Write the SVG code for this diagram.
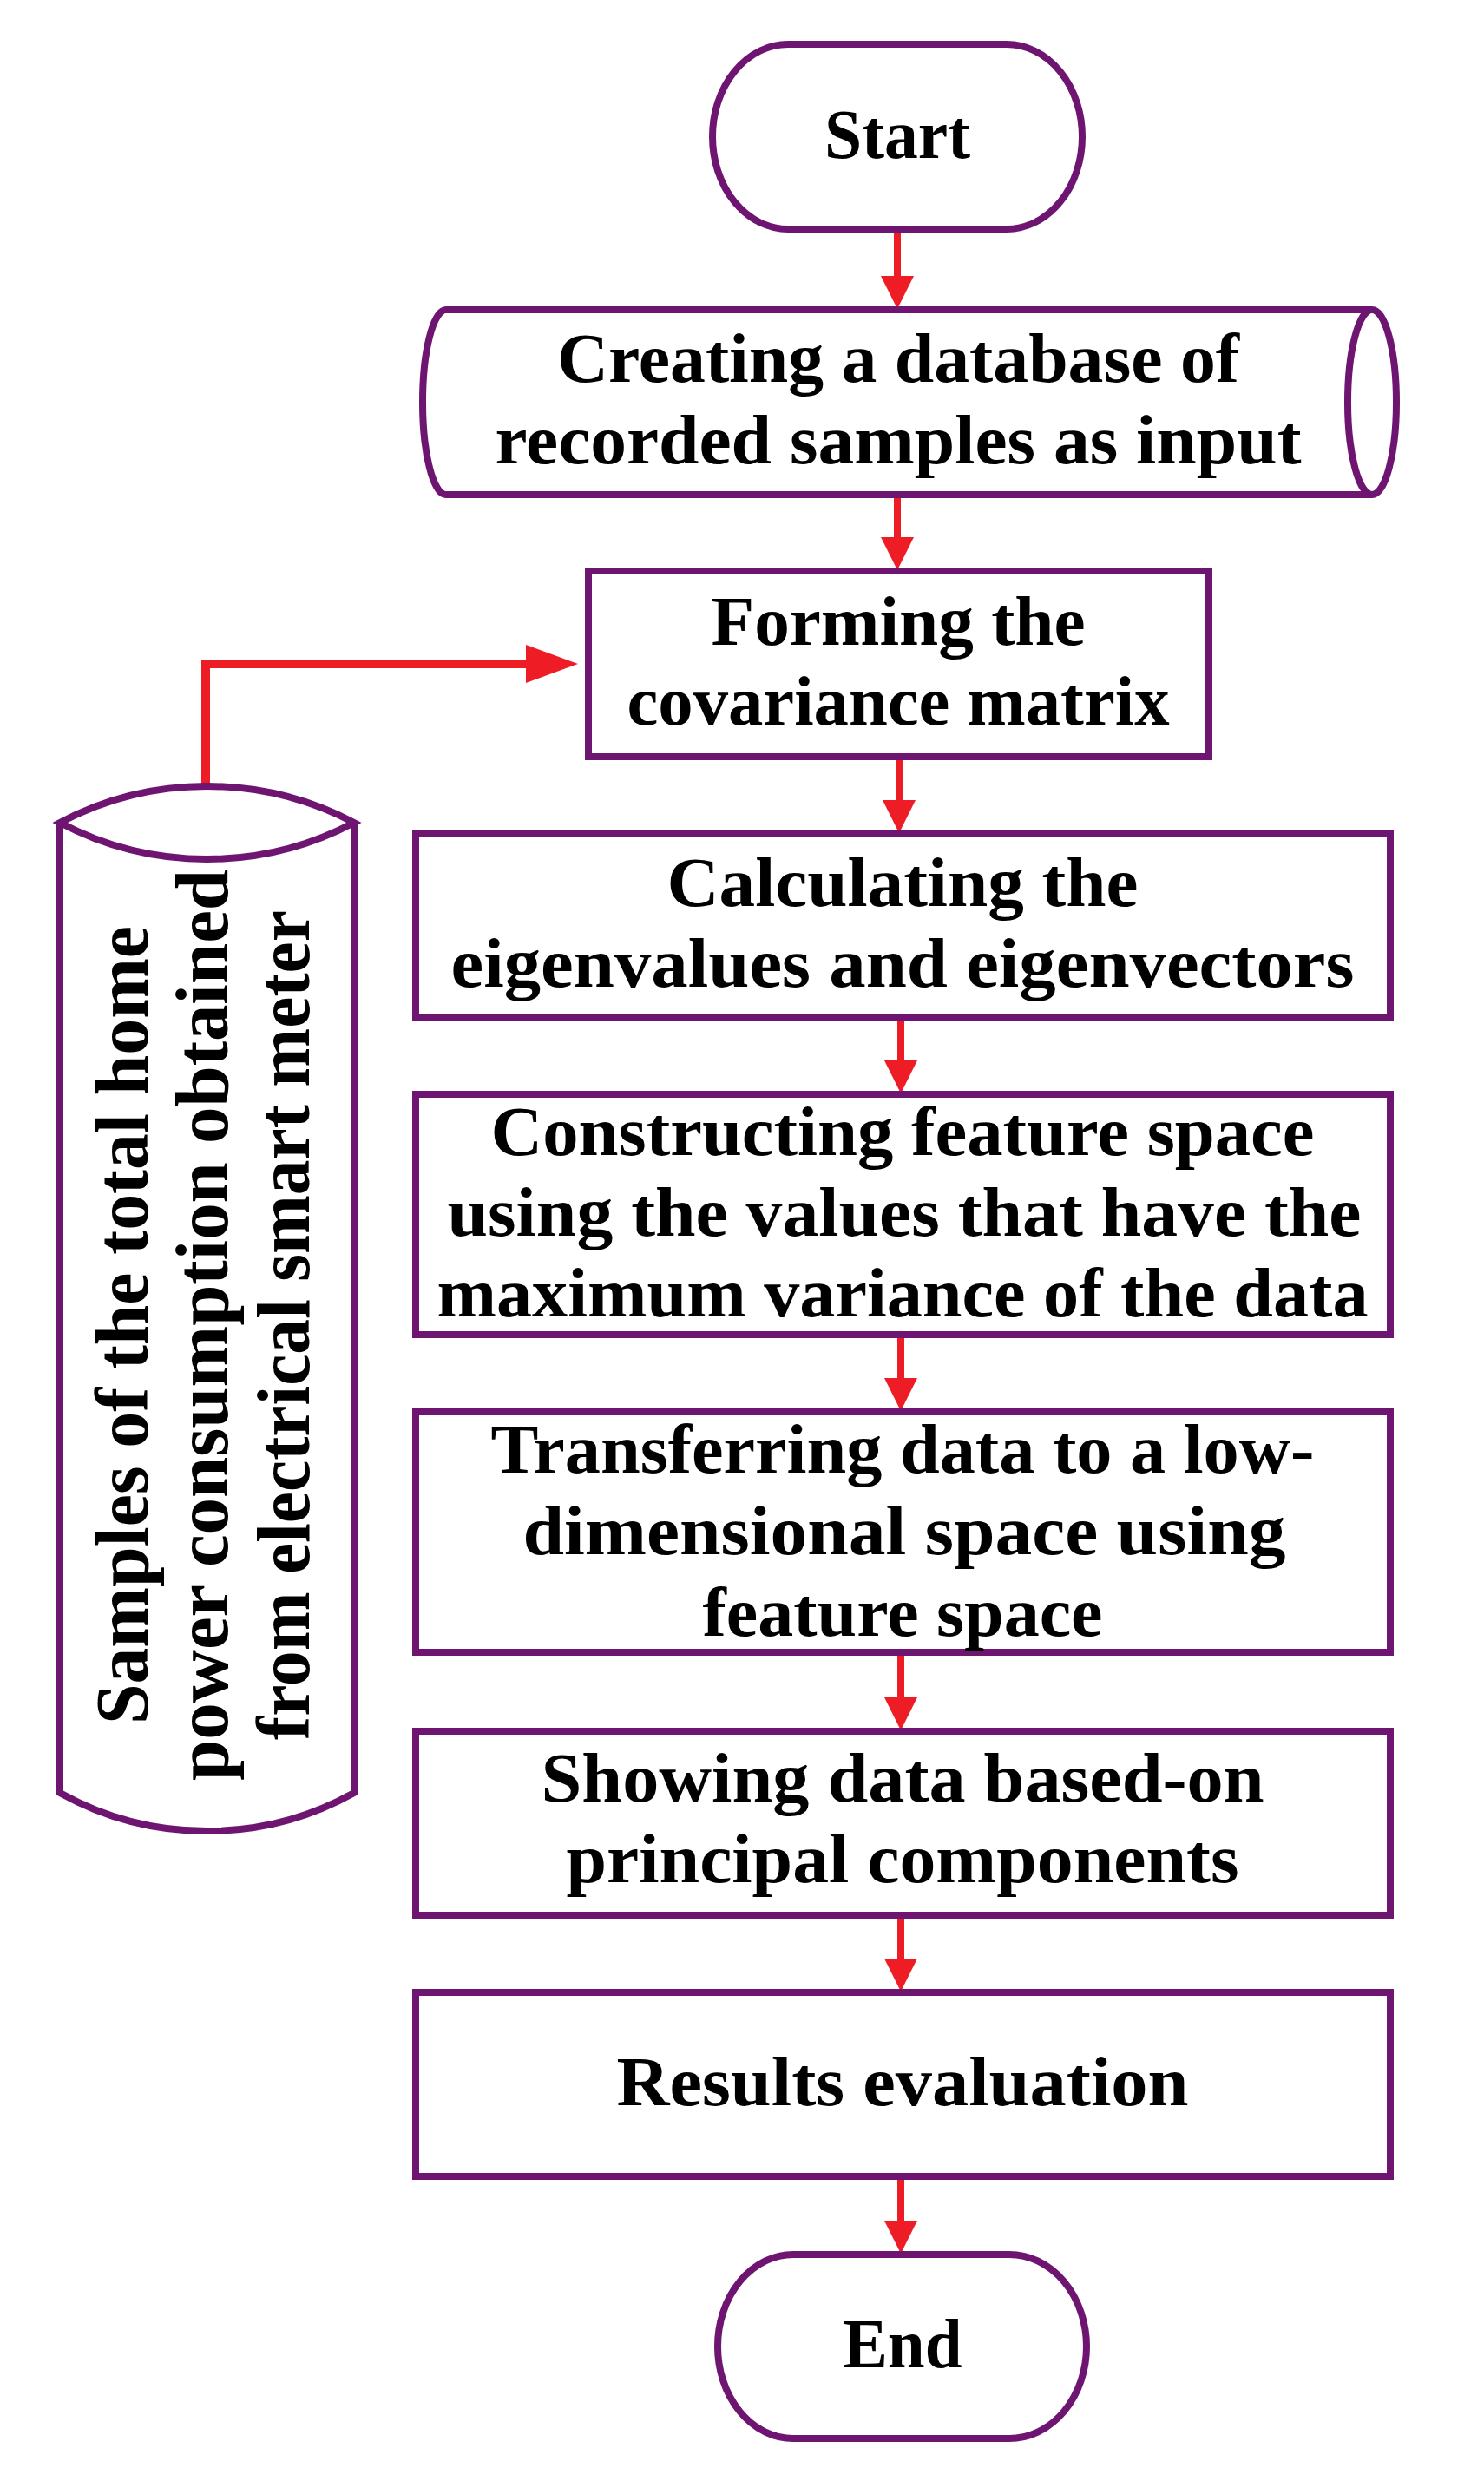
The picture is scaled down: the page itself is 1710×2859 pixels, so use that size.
<svg xmlns="http://www.w3.org/2000/svg" width="1710" height="2859" viewBox="0 0 1710 2859">
<defs>
<style>
.shape{fill:#ffffff;stroke:#6E1471;stroke-width:8;stroke-linejoin:miter}
.conn{fill:none;stroke:#EE1C25;stroke-width:8}
.conn2{fill:none;stroke:#EE1C25;stroke-width:10;stroke-linejoin:miter}
.t{font-family:"Liberation Serif","Times New Roman",serif;font-weight:bold;font-size:80px;fill:#000000;text-anchor:middle}
.tv{font-family:"Liberation Serif","Times New Roman",serif;font-weight:bold;font-size:86px;fill:#000000;text-anchor:middle}
</style>
<marker id="ah" markerUnits="userSpaceOnUse" markerWidth="38" markerHeight="38" refX="8" refY="19" orient="auto">
<path d="M0,0 L38,19 L0,38 Z" fill="#EE1C25"/>
</marker>
<marker id="ahBig" markerUnits="userSpaceOnUse" markerWidth="60" markerHeight="44" refX="10" refY="22" orient="auto">
<path d="M0,0 L60,22 L0,44 Z" fill="#EE1C25"/>
</marker>
</defs>
<rect x="0" y="0" width="1710" height="2859" fill="#ffffff"/>

<g id="connectors">
<line class="conn" x1="1034" y1="264" x2="1034" y2="326" marker-end="url(#ah)"/>
<line class="conn" x1="1034" y1="570" x2="1034" y2="627" marker-end="url(#ah)"/>
<line class="conn" x1="1036" y1="872" x2="1036" y2="930" marker-end="url(#ah)"/>
<line class="conn" x1="1038" y1="1172" x2="1038" y2="1230" marker-end="url(#ah)"/>
<line class="conn" x1="1038" y1="1538" x2="1038" y2="1596" marker-end="url(#ah)"/>
<line class="conn" x1="1038" y1="1904" x2="1038" y2="1964" marker-end="url(#ah)"/>
<line class="conn" x1="1038" y1="2207" x2="1038" y2="2265" marker-end="url(#ah)"/>
<line class="conn" x1="1038" y1="2508" x2="1038" y2="2567" marker-end="url(#ah)"/>
<path class="conn2" d="M237,908 V765 H616" marker-end="url(#ahBig)"/>
</g>

<g id="start">
<path class="shape" d="M908,51 H1160 A87 106.5 0 0 1 1247 157.5 A87 106.5 0 0 1 1160 264 H908 A87 106.5 0 0 1 821 157.5 A87 106.5 0 0 1 908 51 Z"/>
<text class="t" x="1034" y="182" textLength="168" lengthAdjust="spacingAndGlyphs">Start</text>
</g>

<g id="database">
<path class="shape" d="M514,357 H1581 A28 106.5 0 0 1 1581 570 H514 A27 106.5 0 0 1 514 357 Z"/>
<path class="shape" fill="none" d="M1581,357 A28 106.5 0 0 0 1581 570"/>
<text class="t" x="1035" y="440" textLength="786" lengthAdjust="spacingAndGlyphs">Creating a database of</text>
<text class="t" x="1035" y="534" textLength="929" lengthAdjust="spacingAndGlyphs">recorded samples as input</text>
</g>

<g id="forming">
<rect class="shape" x="678" y="658" width="715" height="214"/>
<text class="t" x="1035" y="743" textLength="431" lengthAdjust="spacingAndGlyphs">Forming the</text>
<text class="t" x="1035" y="835" textLength="625" lengthAdjust="spacingAndGlyphs">covariance matrix</text>
</g>

<g id="samples">
<path class="shape" d="M69,948 V2066 A348 348 0 0 0 408 2066 V948"/>
<path class="shape" d="M69,948 A363 363 0 0 1 408 948 A363 363 0 0 1 69 948 Z"/>
<text class="tv" transform="translate(170,1527) rotate(-90)" x="0" y="0" textLength="920" lengthAdjust="spacingAndGlyphs">Samples of the total home</text>
<text class="tv" transform="translate(262,1527) rotate(-90)" x="0" y="0" textLength="1050" lengthAdjust="spacingAndGlyphs">power consumption obtained</text>
<text class="tv" transform="translate(356,1527) rotate(-90)" x="0" y="0" textLength="956" lengthAdjust="spacingAndGlyphs">from electrical smart meter</text>
</g>

<g id="calculating">
<rect class="shape" x="479" y="961" width="1123" height="211"/>
<text class="t" x="1040" y="1044" textLength="543" lengthAdjust="spacingAndGlyphs">Calculating the</text>
<text class="t" x="1040" y="1137" textLength="1041" lengthAdjust="spacingAndGlyphs">eigenvalues and eigenvectors</text>
</g>

<g id="constructing">
<rect class="shape" x="479" y="1261" width="1123" height="277"/>
<text class="t" x="1040" y="1331" textLength="949" lengthAdjust="spacingAndGlyphs">Constructing feature space</text>
<text class="t" x="1042" y="1424" textLength="1053" lengthAdjust="spacingAndGlyphs">using the values that have the</text>
<text class="t" x="1040" y="1517" textLength="1073" lengthAdjust="spacingAndGlyphs">maximum variance of the data</text>
</g>

<g id="transferring">
<rect class="shape" x="479" y="1627" width="1123" height="277"/>
<text class="t" x="1040" y="1697" textLength="949" lengthAdjust="spacingAndGlyphs">Transferring data to a low-</text>
<text class="t" x="1042" y="1791" textLength="879" lengthAdjust="spacingAndGlyphs">dimensional space using</text>
<text class="t" x="1040" y="1885" textLength="461" lengthAdjust="spacingAndGlyphs">feature space</text>
</g>

<g id="showing">
<rect class="shape" x="479" y="1995" width="1123" height="212"/>
<text class="t" x="1040" y="2076" textLength="833" lengthAdjust="spacingAndGlyphs">Showing data based-on</text>
<text class="t" x="1040" y="2169" textLength="775" lengthAdjust="spacingAndGlyphs">principal components</text>
</g>

<g id="results">
<rect class="shape" x="479" y="2296" width="1123" height="212"/>
<text class="t" x="1040" y="2426" textLength="659" lengthAdjust="spacingAndGlyphs">Results evaluation</text>
</g>

<g id="end">
<path class="shape" d="M914,2598 H1163 A89 106 0 0 1 1252 2704 A89 106 0 0 1 1163 2810 H914 A87 106 0 0 1 827 2704 A87 106 0 0 1 914 2598 Z"/>
<text class="t" x="1040" y="2728" textLength="137" lengthAdjust="spacingAndGlyphs">End</text>
</g>
</svg>
